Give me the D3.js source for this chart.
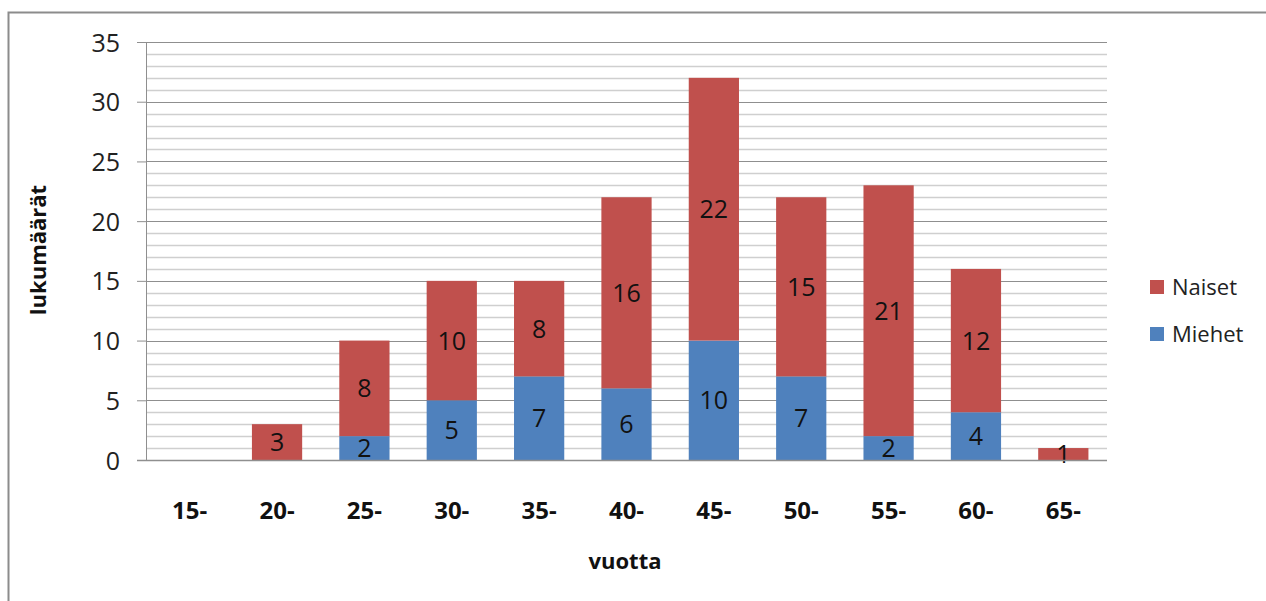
<!DOCTYPE html>
<html>
<head>
<meta charset="utf-8">
<script src="https://cdn.jsdelivr.net/npm/d3@7"></script>
<style>
  body { margin: 0; background: #fff; overflow: hidden; }
  svg { display: block; }
  text { font-family: "Open Sans", "Liberation Sans", sans-serif; }
</style>
</head>
<body>
<div id="chart"></div>
<script>
// size of svg
const width = 1266; const height = 601;
const margin = {top: 42, right: 159, bottom: 141, left: 146};
const innerWidth = width - margin.left - margin.right;
const innerHeight = height - margin.top - margin.bottom;

// data
const ages = ["15-", "20-", "25-", "30-", "35-", "40-", "45-", "50-", "55-", "60-", "65-"];
const miehet = [0, 0, 2, 5, 7, 6, 10, 7, 2, 4, 0];
const naiset = [0, 3, 8, 10, 8, 16, 22, 15, 21, 12, 1];
const yTicks = [0, 5, 10, 15, 20, 25, 30, 35];
const seriesNames = ["Miehet", "Naiset"];
const colors = {"Miehet": "#4f81bd", "Naiset": "#c0504d"};

const table = ages.map((a, i) => ({age: a, Miehet: miehet[i], Naiset: naiset[i]}));
const stacked = d3.stack().keys(seriesNames)(table);

const svg = d3.select("#chart").append("svg")
    .attr("width", width)
    .attr("height", height);

// outer chart border
svg.append("rect")
    .attr("x", 8.5).attr("y", 12.5)
    .attr("width", width + 10).attr("height", height + 10)
    .attr("fill", "none")
    .attr("stroke", "#8c8c8c")
    .attr("stroke-width", 2);

const g = svg.append("g")
    .attr("transform", `translate(${margin.left}, ${margin.top})`);

const x = d3.scaleBand()
    .domain(ages)
    .range([0, innerWidth])
    .paddingInner(0.425)
    .paddingOuter(0.2125);

const y = d3.scaleLinear()
    .domain([0, 35])
    .range([innerHeight, 0]);

// minor gridlines every 1
g.append("g").selectAll("line")
    .data(d3.range(1, 35).filter(v => v % 5 !== 0))
    .enter().append("line")
    .attr("x1", 0).attr("x2", innerWidth)
    .attr("y1", d => Math.round(y(d)) + 0.5)
    .attr("y2", d => Math.round(y(d)) + 0.5)
    .attr("stroke", "#cfcfcf")
    .attr("stroke-width", 1.5);

// major gridlines
g.append("g").selectAll("line")
    .data(yTicks.slice(1))
    .enter().append("line")
    .attr("x1", 0).attr("x2", innerWidth)
    .attr("y1", d => Math.round(y(d)) + 0.5)
    .attr("y2", d => Math.round(y(d)) + 0.5)
    .attr("stroke", "#8f8f8f")
    .attr("stroke-width", 1.2);

// bars
g.selectAll("g.series")
    .data(stacked)
    .enter().append("g")
    .attr("class", "series")
    .attr("fill", d => colors[d.key])
    .selectAll("rect")
    .data(d => d)
    .enter().append("rect")
    .attr("x", d => x(d.data.age))
    .attr("y", d => y(d[1]))
    .attr("width", x.bandwidth())
    .attr("height", d => y(d[0]) - y(d[1]));

// value labels (baseline placed so the digits sit centred in the segment)
const labelSize = 25;
stacked.forEach(s => {
    g.append("g").selectAll("text")
        .data(s.filter(d => d[1] - d[0] > 0))
        .enter().append("text")
        .attr("x", d => x(d.data.age) + x.bandwidth() / 2)
        .attr("y", d => (y(d[0]) + y(d[1])) / 2 + labelSize * 0.36)
        .attr("text-anchor", "middle")
        .attr("font-size", labelSize + "px")
        .attr("fill", "#111")
        .text(d => d[1] - d[0]);
});

// y axis
const yAxis = d3.axisLeft(y).tickValues(yTicks).tickSize(9).tickPadding(17);
const yg = g.append("g").call(yAxis);
yg.select(".domain").attr("stroke", "#8f8f8f").attr("d", `M0.5,${innerHeight}V0`);
yg.selectAll(".tick line").attr("stroke", "#8f8f8f");
yg.selectAll("text")
    .attr("dy", null)
    .attr("y", labelSize * 0.36)
    .attr("font-size", labelSize + "px")
    .attr("fill", "#222")
    .style("font-family", "'Open Sans', sans-serif");

// x axis baseline
g.append("line")
    .attr("x1", -9).attr("x2", innerWidth)
    .attr("y1", innerHeight + 0.5).attr("y2", innerHeight + 0.5)
    .attr("stroke", "#8f8f8f").attr("stroke-width", 1.5);

// x tick labels
g.append("g").selectAll("text")
    .data(ages)
    .enter().append("text")
    .attr("x", d => x(d) + x.bandwidth() / 2)
    .attr("y", innerHeight + 59)
    .attr("text-anchor", "middle")
    .attr("font-size", "24px")
    .attr("font-weight", "bold")
    .attr("fill", "#111")
    .text(d => d);

// axis titles
svg.append("text")
    .attr("x", 625)
    .attr("y", 569)
    .attr("text-anchor", "middle")
    .attr("font-size", "22px")
    .attr("font-weight", "bold")
    .attr("fill", "#111")
    .text("vuotta");

svg.append("text")
    .attr("transform", "translate(46, 250) rotate(-90)")
    .attr("text-anchor", "middle")
    .attr("font-size", "22px")
    .attr("font-weight", "bold")
    .attr("fill", "#111")
    .text("lukumäärät");

// legend
const legendItems = ["Naiset", "Miehet"];
const legend = svg.append("g").selectAll("g")
    .data(legendItems)
    .enter().append("g")
    .attr("transform", (d, i) => `translate(1150, ${280 + i * 47})`);
legend.append("rect")
    .attr("width", 14).attr("height", 14)
    .attr("fill", d => colors[d]);
legend.append("text")
    .attr("x", 22).attr("y", 15)
    .attr("font-size", "22px")
    .attr("fill", "#222")
    .text(d => d);
</script>
</body>
</html>
